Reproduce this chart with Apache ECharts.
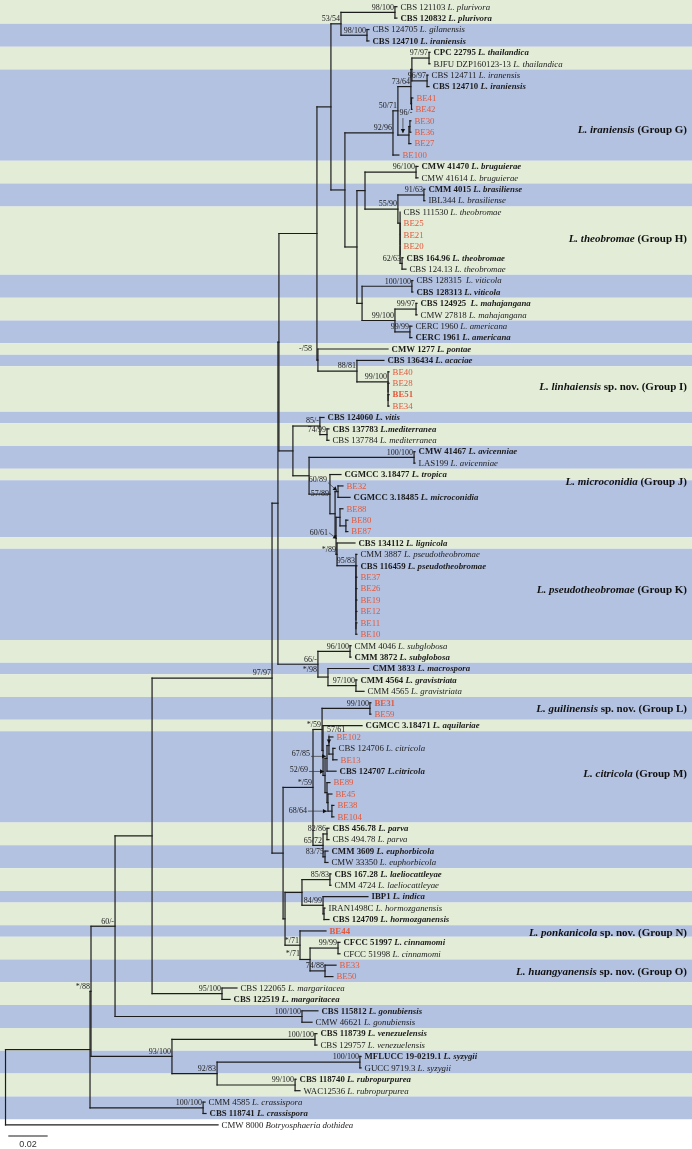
<!DOCTYPE html>
<html><head><meta charset="utf-8">
<script src="https://cdn.jsdelivr.net/npm/echarts@6/dist/echarts.min.js"></script>
<style>html,body{margin:0;padding:0;background:#fff}#c{width:692px;height:1149px}</style>
</head><body><div id="c"></div><script>
// ---------- DATA ----------
const strains = ['CBS 121103','CBS 120832','CBS 124705','CBS 124710','CPC 22795','BJFU DZP160123-13','CBS 124711','CBS 124710','BE41','BE42','BE30','BE36','BE27','BE100','CMW 41470','CMW 41614','CMM 4015','IBL344','CBS 111530','BE25','BE21','BE20','CBS 164.96','CBS 124.13','CBS 128315 ','CBS 128313','CBS 124925 ','CMW 27818','CERC 1960','CERC 1961','CMW 1277','CBS 136434','BE40','BE28','BE51','BE34','CBS 124060','CBS 137783','CBS 137784','CMW 41467','LAS199','CGMCC 3.18477','BE32','CGMCC 3.18485','BE88','BE80','BE87','CBS 134112','CMM 3887','CBS 116459','BE37','BE26','BE19','BE12','BE11','BE10','CMM 4046','CMM 3872','CMM 3833','CMM 4564','CMM 4565','BE31','BE59','CGMCC 3.18471','BE102','CBS 124706','BE13','CBS 124707','BE89','BE45','BE38','BE104','CBS 456.78','CBS 494.78','CMM 3609','CMW 33350','CBS 167.28','CMM 4724','IBP1','IRAN1498C','CBS 124709','BE44','CFCC 51997','CFCC 51998','BE33','BE50','CBS 122065','CBS 122519','CBS 115812','CMW 46621','CBS 118739','CBS 129757','MFLUCC 19-0219.1','GUCC 9719.3','CBS 118740','WAC12536','CMM 4585','CBS 118741','CMW 8000'];
const species = ['L. plurivora','L. plurivora','L. gilanensis','L. iraniensis','L. thailandica','L. thailandica','L. iranensis','L. iraniensis','','','','','','','L. bruguierae','L. bruguierae','L. brasiliense','L. brasiliense','L. theobromae','','','','L. theobromae','L. theobromae','L. viticola','L. viticola','L. mahajangana','L. mahajangana','L. americana','L. americana','L. pontae','L. acaciae','','','','','L. vitis','L.mediterranea','L. mediterranea','L. avicenniae','L. avicenniae','L. tropica','','L. microconidia','','','','L. lignicola','L. pseudotheobromae','L. pseudotheobromae','','','','','','','L. subglobosa','L. subglobosa','L. macrospora','L. gravistriata','L. gravistriata','','','L. aquilariae','','L. citricola','','L.citricola','','','','','L. parva','L. parva','L. euphorbicola','L. euphorbicola','L. laeliocattleyae','L. laeliocattleyae','L. indica','L. hormozganensis','L. hormozganensis','','L. cinnamomi','L. cinnamomi','','','L. margaritacea','L. margaritacea','L. gonubiensis','L. gonubiensis','L. venezuelensis','L. venezuelensis','L. syzygii','L. syzygii','L. rubropurpurea','L. rubropurpurea','L. crassispora','L. crassispora','Botryosphaeria dothidea'];
// n normal, b bold (type strain), r red (new isolate), R red bold
const leafStyle = 'nbnbbnnb'+'rrrrrr'+'bnbnn'+'rrr'+'bnnbbnnbbb'+'rrRr'+'bbnbnb'+'rbrrr'+'bnb'+'rrrrrr'+'nbbbn'+'Rr'+'brnrb'+'rrrr'+'bnbnbnbnb'+'Rbnrr'+'nbbnbnbnbnnbn';
// tip depth (substitutions per site) of every leaf
const tipDepth = [0.1987,0.1987,0.1845,0.1845,0.2155,0.2155,0.2145,0.2150,0.2068,0.2063,0.2058,0.2058,0.2058,0.1997,0.2094,0.2094,0.2129,0.2129,0.2003,0.2003,0.2003,0.2003,0.2018,0.2033,0.2068,0.2068,0.2089,0.2089,0.2063,0.2063,0.1942,0.1921,0.1947,0.1947,0.1947,0.1947,0.1617,0.1642,0.1642,0.2079,0.2079,0.1703,0.1713,0.1749,0.1713,0.1738,0.1738,0.1774,0.1784,0.1784,0.1784,0.1784,0.1784,0.1784,0.1784,0.1784,0.1754,0.1754,0.1845,0.1784,0.1820,0.1855,0.1855,0.1810,0.1662,0.1673,0.1683,0.1678,0.1647,0.1657,0.1667,0.1667,0.1642,0.1642,0.1637,0.1637,0.1652,0.1652,0.1840,0.1622,0.1642,0.1627,0.1698,0.1698,0.1678,0.1662,0.1175,0.1140,0.1586,0.1556,0.1581,0.1581,0.1805,0.1805,0.1475,0.1495,0.1013,0.1018,0.1079];
// internal node: depth, support label, children (leaf indices or nodes); binary as in the source tree
function N(d, s, ...c) { return { d, s, c }; }
const cladePlu = N(0.1703, '53/54', N(0.1977, '98/100', 0, 1), N(0.1835, '98/100', 2, 3));
const cladeG = N(0.1967, '92/96',
  N(0.1992, '50/71',
    N(0.2058, '73/64', N(0.2063, '', N(0.2150, '97/97', 4, 5), N(0.2140, '96/97', 6, 7)), N(0.2061, '', 8, 9)),
    N(0.2048, '96/-', N(0.2053, '', 10, 11), 12)),
  13);
const cladeH = N(0.1825, '',
  N(0.2084, '96/100', 14, 15),
  N(0.1992, '55/90', N(0.2124, '91/63', 16, 17),
    N(0.2003, '', 18, N(0.2003, '', 19, N(0.2003, '', 20, N(0.2003, '', 21, N(0.2013, '62/63', 22, 23)))))));
const cladeVMA = N(0.1810, '', N(0.2063, '100/100', 24, 25), N(0.1977, '99/100', N(0.2084, '99/97', 26, 27), N(0.2053, '99/99', 28, 29)));
const cladeI = N(0.1586, '-/58', 30, N(0.1784, '88/81', 31, N(0.1942, '99/100', 32, N(0.1942, '', 33, N(0.1942, '', 34, 35)))));
const nTop = N(0.1581, '', N(0.1652, '', cladePlu, N(0.1723, '', cladeG, N(0.1784, '', cladeH, cladeVMA))), cladeI);
const cladeK = N(0.1779, '95/83', 48, N(0.1779, '', 49, N(0.1779, '', 50, N(0.1779, '', 51, N(0.1779, '', 52, N(0.1779, '', 53, N(0.1779, '', 54, 55)))))));
const cladeJK = N(0.1647, '57/89', 41,
  N(0.1673, '',
    N(0.1688, '60/89', 42, 43),
    N(0.1678, '60/61',
      N(0.1698, '', 44, N(0.1728, '', 45, 46)),
      N(0.1683, '*/89', 47, cladeK))));
const nMid = N(0.1459, '', N(0.1596, '85/-', 36, N(0.1632, '74/99', 37, 38)), N(0.1541, '', N(0.2074, '100/100', 39, 40), cladeJK));
const cladeSub = N(0.1586, '66/-', N(0.1749, '96/100', 56, 57), N(0.1637, '*/98', 58, N(0.1779, '97/100', 59, 60)));
const cladeLM = N(0.1607, '*/59',
  N(0.1850, '99/100', 61, 62),
  N(0.1612, '', 63,
    N(0.1622, '52/69',
      N(0.1632, '67/85', N(0.1642, '57/61', 64, N(0.1662, '', 65, 66)), 67),
      N(0.1632, '', 68, N(0.1637, '', 69, N(0.1657, '68/64', 70, 71))))));
const cladePE = N(0.1612, '65/72', N(0.1632, '82/86', 72, 73), N(0.1622, '83/75', 74, 75));
const cladeLow = N(0.1419, '',
  N(0.1505, '', N(0.1647, '85/83', 76, 77), N(0.1612, '84/99', 78, N(0.1617, '', 79, 80))),
  N(0.1495, '*/71', 81, N(0.1546, '*/71', N(0.1688, '99/99', 82, 83), N(0.1622, '74/88', 84, 85))));
const n97 = N(0.1353, '97/97',
  N(0.1383, '', N(0.1388, '', nTop, nMid), cladeSub),
  N(0.1409, '', N(0.1561, '*/59', cladeLM, cladePE), cladeLow));
const cladeOut = N(0.0845, '93/100', N(0.1571, '100/100', 90, 91), N(0.1074, '92/83', N(0.1799, '100/100', 92, 93), N(0.1470, '99/100', 94, 95)));
const tree = N(0, '',
  N(0.0429, '',
    N(0.0434, '*/88',
      N(0.0556, '60/-', N(0.0744, '', n97, N(0.1099, '95/100', 86, 87)), N(0.1505, '100/100', 88, 89)),
      cladeOut),
    N(0.1003, '100/100', 96, 97)),
  98);
// alternating shaded bands: first leaf of each band (last entry = end)
const bandBreaks = [0,2,4,6,14,16,18,24,26,28,30,31,32,36,37,39,41,42,47,48,56,58,59,61,63,64,72,74,76,78,79,81,82,84,86,88,90,92,94,96,98];
const groupSpecies = ['L. iraniensis','L. theobromae','L. linhaiensis','L. microconidia','L. pseudotheobromae','L. guilinensis','L. citricola','L. ponkanicola','L. huangyanensis'];
const groupSuffix = ['(Group G)','(Group H)','sp. nov. (Group I)','(Group J)','(Group K)','sp. nov. (Group L)','(Group M)','sp. nov. (Group N)','sp. nov. (Group O)'];
const groupRow = [10.8, 20.4, 33.3, 41.7, 51.1, 61.6, 67.3, 81.2, 84.6];
const scaleBarValue = 0.02;
const scaleBarLabel = '0.02';

// ---------- STYLE: support labels moved off their default spot (px offsets), some with a pointer ----------
const leaders = {
  '96/-':  { lx: -3,  ly: -18,  align: 'center', p: [[-6, -17], [-6, -2]] },
  '60/89': { lx: -11, ly: -8,   align: 'right',  p: [[-10, -9], [-1, -1]] },
  '60/61': { lx: -8,  ly: 1,    align: 'right',  p: [[-7, -3], [1, 3]] },
  '57/61': { lx: -2,  ly: -11.5, align: 'left',  p: [[0, -11], [0, -2]] },
  '67/85': { lx: -17, ly: 0,    align: 'right',  p: [[-16, -2], [-1, -2]] },
  '52/69': { lx: -17, ly: -1.5, align: 'right',  p: [[-16, -4], [-1, -4]] },
  '68/64': { lx: -25, ly: 4,    align: 'right',  p: [[-24, 0], [-5, 0]] },
  '57/89': { lx: -1,  ly: 4,    align: 'right' },
  '*/98':  { lx: -11, ly: -3,   align: 'right' },
  '-/58':  { lx: -6,  ly: -7,   align: 'right' },
  '*/71@0.1546': { lx: -10, ly: -2, align: 'right' }
};

// ---------- LAYOUT ----------
const segs = [], supports = [];
function layout(node) {
  if (typeof node === 'number') return { x: tipDepth[node], y: node };
  const kids = node.c.map(layout);
  const y = (kids[0].y + kids[kids.length - 1].y) / 2;
  segs.push([node.d, kids[0].y, node.d, kids[kids.length - 1].y]);
  kids.forEach(k => segs.push([node.d, k.y, k.x, k.y]));
  if (node.s) supports.push({ x: node.d, y: y, s: node.s });
  return { x: node.d, y };
}
layout(tree);

const SERIF = '"Liberation Serif","Times New Roman",serif';
const RED = '#e2583a';
const INK = '#1c1c1c';
const GREEN = '#e2ecd7', BLUE = '#b3c2e1';
const GFS = 11;

const mctx = document.createElement('canvas').getContext('2d');
function groupWidth(i) {
  mctx.font = 'italic bold ' + GFS + 'px ' + SERIF;
  let w = mctx.measureText(groupSpecies[i] + ' ').width;
  mctx.font = 'bold ' + GFS + 'px ' + SERIF;
  return w + mctx.measureText(groupSuffix[i]).width;
}

const chart = echarts.init(document.getElementById('c'), null, { renderer: 'canvas' });
const richLeaf = {
  s: { fontFamily: SERIF, fontSize: 8.8, fill: INK },
  sb: { fontFamily: SERIF, fontSize: 8.8, fill: INK, fontWeight: 'bold' },
  i: { fontFamily: SERIF, fontSize: 8.8, fill: INK, fontStyle: 'italic' },
  ib: { fontFamily: SERIF, fontSize: 8.8, fill: INK, fontStyle: 'italic', fontWeight: 'bold' },
  r: { fontFamily: SERIF, fontSize: 8.8, fill: RED },
  R: { fontFamily: SERIF, fontSize: 8.8, fill: RED, fontWeight: 'bold' }
};
function leafText(i) {
  const st = leafStyle[i];
  if (st === 'r' || st === 'R') return '{' + st + '|' + strains[i] + '}';
  const b = st === 'b';
  return '{' + (b ? 'sb' : 's') + '|' + strains[i] + '} {' + (b ? 'ib' : 'i') + '|' + species[i] + '}';
}
function arrowHead(p1, p2, size) {
  const dx = p2[0] - p1[0], dy = p2[1] - p1[1];
  const L = Math.hypot(dx, dy) || 1, ux = dx / L, uy = dy / L;
  const bx = p2[0] - ux * size, by = p2[1] - uy * size;
  return [[p2[0], p2[1]], [bx - uy * size * 0.55, by + ux * size * 0.55], [bx + uy * size * 0.55, by - ux * size * 0.55]];
}

chart.setOption({
  animation: false,
  grid: { left: 0, right: 0, top: 0, bottom: 0 },
  xAxis: { type: 'value', min: -0.0028, max: 0.3485, show: false },
  yAxis: { type: 'value', inverse: true, min: -0.587, max: 100.11, show: false },
  series: [
    { // bands
      type: 'custom', silent: true, clip: false, z: 1,
      data: bandBreaks.slice(0, -1).map((b, k) => [b, bandBreaks[k + 1]]),
      renderItem(params, api) {
        const k = params.dataIndex;
        const top = api.coord([0, (k === 0 ? -0.6 : api.value(0) - 0.5)])[1];
        const bot = api.coord([0, api.value(1) - 0.5])[1];
        return { type: 'rect', shape: { x: 0, y: top, width: api.getWidth(), height: bot - top },
          style: { fill: k % 2 === 0 ? GREEN : BLUE } };
      }
    },
    { // branches
      type: 'custom', silent: true, clip: false, z: 3,
      data: segs,
      renderItem(params, api) {
        const a = api.coord([api.value(0), api.value(1)]);
        const b = api.coord([api.value(2), api.value(3)]);
        return { type: 'line', shape: { x1: a[0], y1: a[1], x2: b[0], y2: b[1] },
          style: { stroke: INK, lineWidth: 1.2, lineCap: 'square' } };
      }
    },
    { // leaf labels
      type: 'custom', silent: true, clip: false, z: 4,
      data: tipDepth.map((d, i) => [d, i]),
      renderItem(params, api) {
        const c = api.coord([api.value(0), api.value(1)]);
        return { type: 'text', x: c[0] + 3.5, y: c[1] + 0.5,
          style: { text: leafText(params.dataIndex), rich: richLeaf, align: 'left', verticalAlign: 'middle',
            fontFamily: SERIF, fontSize: 8.8, fill: INK } };
      }
    },
    { // support values
      type: 'custom', silent: true, clip: false, z: 5,
      data: supports.map(s => [s.x, s.y]),
      renderItem(params, api) {
        const c = api.coord([api.value(0), api.value(1)]);
        const sp = supports[params.dataIndex];
        const lab = sp.s;
        const L = leaders[lab + '@' + sp.x] || leaders[lab];
        const txtStyle = { text: lab, verticalAlign: 'bottom', fontFamily: SERIF, fontSize: 8, fill: INK };
        if (!L) {
          return { type: 'text', x: c[0] - 1, y: c[1] - 0.8, style: Object.assign({ align: 'right' }, txtStyle) };
        }
        const children = [{ type: 'text', x: c[0] + L.lx, y: c[1] + L.ly, style: Object.assign({ align: L.align }, txtStyle) }];
        if (L.p) {
          const p1 = [c[0] + L.p[0][0], c[1] + L.p[0][1]], p2 = [c[0] + L.p[1][0], c[1] + L.p[1][1]];
          children.push({ type: 'line', shape: { x1: p1[0], y1: p1[1], x2: p2[0], y2: p2[1] }, style: { stroke: '#333', lineWidth: 0.7 } });
          children.push({ type: 'polygon', shape: { points: arrowHead(p1, p2, 4) }, style: { fill: '#111' } });
        }
        return { type: 'group', children: children };
      }
    },
    { // group labels (right-aligned near the right edge)
      type: 'custom', silent: true, clip: false, z: 4,
      data: groupRow.map(r => [0, r]),
      renderItem(params, api) {
        const c = api.coord([0, api.value(1)]);
        const i = params.dataIndex;
        const x = api.getWidth() - 5 - groupWidth(i);
        return { type: 'text', x: x, y: c[1],
          style: { text: '{a|' + groupSpecies[i] + '} {b|' + groupSuffix[i] + '}', align: 'left', verticalAlign: 'middle',
            rich: { a: { fontFamily: SERIF, fontSize: GFS, fontWeight: 'bold', fontStyle: 'italic', fill: '#111' },
                    b: { fontFamily: SERIF, fontSize: GFS, fontWeight: 'bold', fill: '#111' } },
            fontFamily: SERIF, fontSize: GFS, fontWeight: 'bold', fill: '#111' } };
      }
    },
    { // scale bar
      type: 'custom', silent: true, clip: false, z: 4,
      data: [[0.0014, 98.97]],
      renderItem(params, api) {
        const a = api.coord([api.value(0), api.value(1)]);
        const b = api.coord([api.value(0) + scaleBarValue, api.value(1)]);
        return { type: 'group', children: [
          { type: 'line', shape: { x1: a[0], y1: a[1], x2: b[0], y2: b[1] }, style: { stroke: INK, lineWidth: 1.2 } },
          { type: 'text', x: (a[0] + b[0]) / 2, y: a[1] + 4,
            style: { text: scaleBarLabel, align: 'center', verticalAlign: 'top', fontFamily: '"Liberation Sans",Arial,sans-serif', fontSize: 9, fill: '#333' } }
        ] };
      }
    }
  ]
});
</script></body></html>
